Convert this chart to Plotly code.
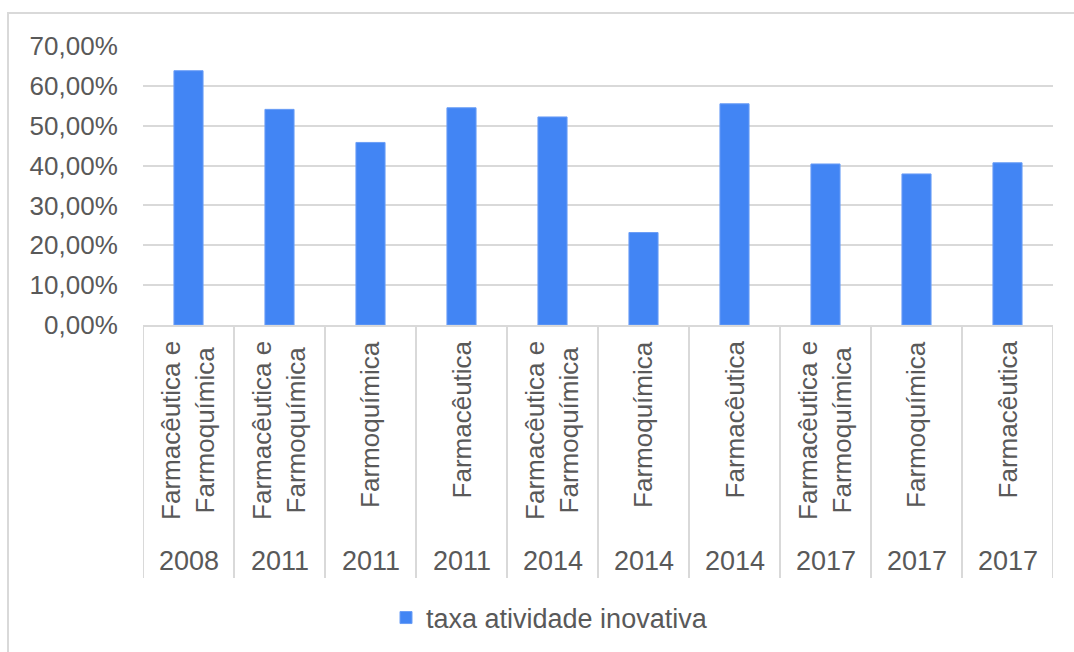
import plotly.graph_objects as go

years = ["2008", "2011", "2011", "2011", "2014", "2014", "2014", "2017", "2017", "2017"]
segments = [
    "Farmacêutica e<br>Farmoquímica",
    "Farmacêutica e<br>Farmoquímica",
    "Farmoquímica",
    "Farmacêutica",
    "Farmacêutica e<br>Farmoquímica",
    "Farmoquímica",
    "Farmacêutica",
    "Farmacêutica e<br>Farmoquímica",
    "Farmoquímica",
    "Farmacêutica",
]
values = [0.638, 0.541, 0.458, 0.545, 0.522, 0.232, 0.555, 0.404, 0.379, 0.407]
series_name = "taxa atividade inovativa"

FONT = "Liberation Sans, Arial, sans-serif"
GRAY_TXT = "#595959"
GRID = "#d9d9d9"

W, H = 1074, 652
L, R, T, B = 143, 21, 46, 326
PH = H - T - B
PW = W - L - R

def py(pix):
    return (H - B - pix) / PH

def px(pix):
    return (pix - L) / PW

xs = list(range(len(values)))

fig = go.Figure()
fig.add_trace(go.Bar(
    x=xs, y=values, name=series_name, width=0.32,
    marker=dict(color="#4285f4", line=dict(color="#6b9ef6", width=1)),
    showlegend=True,
))

shapes = []
# category dividers
for k in range(len(values) + 1):
    shapes.append(dict(type="line", xref="x", yref="paper",
                       x0=k - 0.5, x1=k - 0.5, y0=0, y1=py(580),
                       line=dict(color=GRID, width=2)))
# outer chart border (left and top)
shapes.append(dict(type="path", xref="paper", yref="paper",
                   path=f"M {px(8)} {py(660)} L {px(8)} {py(13)} L {px(1080)} {py(13)}",
                   line=dict(color=GRID, width=2)))

annotations = []
for i, (seg, yr) in enumerate(zip(segments, years)):
    annotations.append(dict(x=i, y=py(340), xref="x", yref="paper",
                            text=seg, textangle=-90, showarrow=False,
                            xanchor="center", yanchor="top", align="center",
                            font=dict(family=FONT, size=26, color=GRAY_TXT)))
    annotations.append(dict(x=i, y=py(563), xref="x", yref="paper",
                            text=yr, showarrow=False,
                            xanchor="center", yanchor="middle",
                            font=dict(family=FONT, size=27, color=GRAY_TXT)))

fig.update_layout(
    width=W, height=H,
    margin=dict(l=L, r=R, t=T, b=B, pad=0),
    paper_bgcolor="white", plot_bgcolor="white",
    separators=",.",
    font=dict(family=FONT, color=GRAY_TXT),
    bargap=0.68,
    xaxis=dict(range=[-0.5, len(values) - 0.5], showticklabels=False,
               showgrid=False, zeroline=False, showline=True,
               linecolor=GRID, linewidth=2, fixedrange=True),
    yaxis=dict(range=[0, 0.70], dtick=0.10, tickformat=".2%",
               showgrid=True, gridcolor=GRID, gridwidth=2,
               zeroline=False, showline=False,
               ticks="outside", ticklen=19, tickcolor="rgba(0,0,0,0)",
               tickfont=dict(family=FONT, size=26, color=GRAY_TXT)),
    legend=dict(orientation="h", x=px(386), y=py(618),
                xanchor="left", yanchor="middle",
                font=dict(family=FONT, size=27, color=GRAY_TXT),
                itemwidth=30),
    shapes=shapes,
    annotations=annotations,
)

fig.write_html("out.html")
